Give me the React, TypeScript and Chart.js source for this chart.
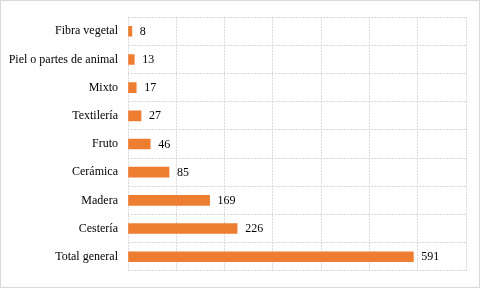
import React, { useEffect, useRef } from "react";
import { Chart, registerables } from "chart.js";

Chart.register(...registerables);

const categories = [
  "Fibra vegetal",
  "Piel o partes de animal",
  "Mixto",
  "Textilería",
  "Fruto",
  "Cerámica",
  "Madera",
  "Cestería",
  "Total general",
];
const values = [8, 13, 17, 27, 46, 85, 169, 226, 591];
const axisMax = 700;
const axisStep = 100;

const FONT = '"Liberation Serif", "Times New Roman", "DejaVu Serif", serif';

const valueLabels = {
  id: "valueLabels",
  afterDatasetsDraw(chart: any) {
    const ctx = chart.ctx;
    const meta = chart.getDatasetMeta(0);
    ctx.save();
    ctx.font = `12px ${FONT}`;
    ctx.fillStyle = "#000000";
    ctx.textAlign = "left";
    ctx.textBaseline = "middle";
    meta.data.forEach((bar: any, i: number) => {
      ctx.fillText(String(values[i]), bar.x + 8, bar.y + 0.5);
    });
    ctx.restore();
  },
};

const frame = {
  id: "frame",
  beforeDraw(chart: any) {
    const ctx = chart.ctx;
    ctx.save();
    ctx.fillStyle = "#ffffff";
    ctx.fillRect(0, 0, chart.width, chart.height);
    ctx.strokeStyle = "#d9d9d9";
    ctx.lineWidth = 1;
    ctx.strokeRect(0.5, 0.5, chart.width - 1, chart.height - 1);
    ctx.restore();
  },
};

export default function App() {
  const ref = useRef<HTMLCanvasElement | null>(null);
  useEffect(() => {
    if (!ref.current) return;
    const chart = new Chart(ref.current, {
      type: "bar",
      data: {
        labels: categories,
        datasets: [
          {
            data: values,
            backgroundColor: "#ED7D31",
            borderWidth: 0,
            barThickness: 10,
          },
        ],
      },
      options: {
        indexAxis: "y",
        animation: false,
        responsive: false,
        maintainAspectRatio: false,
        font: { family: FONT },
        layout: { padding: { left: 0, top: 14, right: 14, bottom: 15 } },
        plugins: {
          legend: { display: false },
          tooltip: { enabled: false },
        },
        scales: {
          x: {
            min: 0,
            max: axisMax,
            ticks: { display: false, stepSize: axisStep },
            grid: {
              color: "#d9d9d9",
              drawTicks: false,
              tickLength: 0,
            },
            border: { display: false, dash: [2, 1] },
            afterFit: (s: any) => {
              s.height = 0;
            },
          },
          y: {
            ticks: {
              color: "#000000",
              font: { family: FONT, size: 12 },
              padding: 10,
            },
            grid: {
              color: "#d9d9d9",
              drawTicks: false,
              tickLength: 0,
              offset: true,
            },
            border: { display: false, dash: [2, 1] },
            afterFit: (s: any) => {
              s.width = 128;
            },
          },
        },
      },
      plugins: [frame, valueLabels],
    });
    let alive = true;
    if ((document as any).fonts) {
      (document as any).fonts.load(`12px ${FONT}`).then(() => {
        if (alive) chart.update();
      });
    }
    return () => {
      alive = false;
      chart.destroy();
    };
  }, []);
  return (
    <div style={{ position: "fixed", left: 0, top: 0, width: 480, height: 288 }}>
      <canvas ref={ref} width={480} height={288} style={{ display: "block" }} />
    </div>
  );
}
